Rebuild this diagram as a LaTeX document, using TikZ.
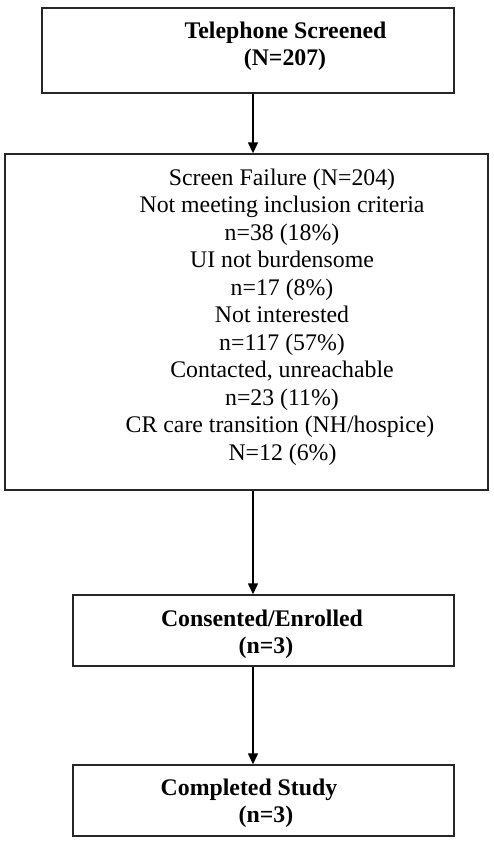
\documentclass[tikz,border=0pt]{standalone}
\usepackage{fontspec}
\setmainfont{Liberation Serif}
\usetikzlibrary{arrows.meta}
\begin{document}
\begin{tikzpicture}[x=1pt,y=-1pt,
  box/.style={draw=black!85,line width=1.4pt,rectangle,inner sep=0pt},
  txt/.style={anchor=base,inner sep=0pt,font=\fontsize{23.8}{27.5}\selectfont},
  btxt/.style={txt,font=\fontsize{23.8}{27.5}\selectfont\bfseries},
  conn/.style={line width=1.4pt,-{Triangle[width=10pt,length=11pt]}}]
\useasboundingbox (0,0) rectangle (494,844);
\node[box,minimum width=412pt,minimum height=85pt] (b1) at (248,50.5) {};
\node[box,minimum width=483pt,minimum height=336pt] (b2) at (246.5,322) {};
\node[box,minimum width=381pt,minimum height=71pt] (b3) at (263.5,630.5) {};
\node[box,minimum width=381pt,minimum height=71pt] (b4) at (263.5,800.5) {};
\coordinate (ax) at (253,0);
\draw[conn] (b1.south -| ax) -- (b2.north -| ax);
\draw[conn] (b2.south -| ax) -- (b3.north -| ax);
\draw[conn] (b3.south -| ax) -- (b4.north -| ax);
% box 1
\node[btxt] (t1a) at (285.5,38.3) {Telephone Screened};
\node[btxt] (t1b) at (285,65.7) {(N=207)};
% box 2
\node[txt] (t2a) at (282,185) {Screen Failure (N=204)};
\node[txt] (t2b) at (282,212.5) {Not meeting inclusion criteria};
\node[txt] (t2c) at (282,240) {n=38 (18\%)};
\node[txt] (t2d) at (282,267.5) {UI not burdensome};
\node[txt] (t2e) at (282,295) {n=17 (8\%)};
\node[txt] (t2f) at (282,322.5) {Not interested};
\node[txt] (t2g) at (282,350) {n=117 (57\%)};
\node[txt] (t2h) at (282,377.5) {Contacted, unreachable};
\node[txt] (t2i) at (282,405) {n=23 (11\%)};
\node[txt] (t2j) at (280,432.5) {CR care transition (NH/hospice)};
\node[txt] (t2k) at (282.5,460) {N=12 (6\%)};
% box 3
\node[btxt] (t3a) at (262,626) {Consented/Enrolled};
\node[btxt] (t3b) at (266,653) {(n=3)};
% box 4
\node[btxt] (t4a) at (249,795) {Completed Study};
\node[btxt] (t4b) at (266,822) {(n=3)};
\end{tikzpicture}
\end{document}
